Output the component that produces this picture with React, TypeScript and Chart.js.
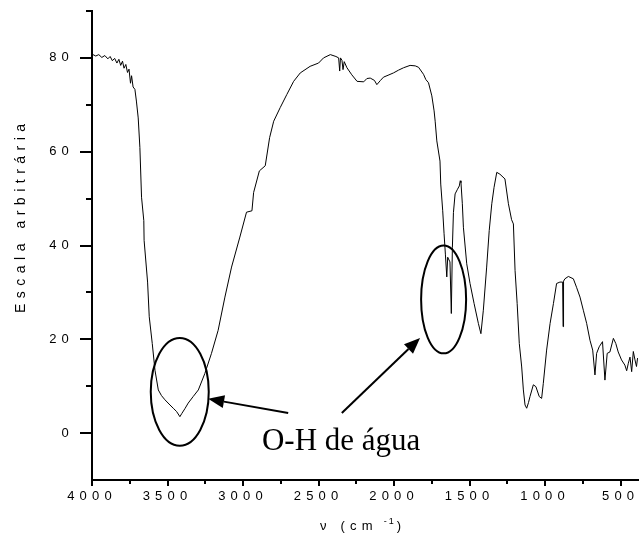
import React, { useEffect, useRef } from 'react';
import { Chart, registerables } from 'chart.js';

Chart.register(...registerables);

// Spectrum data (wavenumber in cm^-1, arbitrary intensity)
const wavenumbers = [
  4000, 3975, 3955, 3935, 3915, 3895, 3880, 3865, 3850, 3835, 3822, 3810, 3798, 3788, 3776, 3765, 3755, 3745, 3738, 3728,
  3716, 3706, 3694, 3683, 3672, 3657, 3655, 3632, 3621, 3601, 3583, 3561, 3540, 3517, 3490, 3462, 3440, 3418, 3405, 3385,
  3363, 3330, 3296, 3253, 3209, 3165, 3120, 3076, 3021, 2977, 2941, 2930, 2892, 2853, 2824, 2797, 2754, 2710, 2665, 2621,
  2556, 2500, 2467, 2422, 2385, 2367, 2360, 2355, 2345, 2338, 2330, 2312, 2280, 2245, 2201, 2180, 2158, 2130, 2114, 2090,
  2070, 2040, 2004, 1970, 1937, 1894, 1860, 1838, 1805, 1790, 1772, 1750, 1735, 1728, 1717, 1696, 1691, 1678, 1669, 1660,
  1651, 1645, 1630, 1621, 1614, 1607, 1596, 1580, 1568, 1562, 1557, 1548, 1541, 1519, 1497, 1470, 1442, 1425, 1409, 1387,
  1370, 1353, 1338, 1320, 1299, 1266, 1243, 1222, 1210, 1199, 1185, 1171, 1155, 1144, 1133, 1122, 1110, 1100, 1078, 1061,
  1039, 1023, 1012, 990, 967, 945, 924, 902, 884, 881, 878, 869, 846, 813, 792, 769, 747, 725, 703, 685,
  670, 659, 642, 620, 604, 589, 571, 548, 532, 516, 494, 472, 460, 449, 438, 427, 416, 405, 395, 388,
];
const intensity = [
  80.8, 80.4, 80.7, 80.1, 80.5, 79.8, 80.3, 79.4, 79.9, 78.9, 79.7, 78.4, 79.3, 77.8, 78.6, 76.9, 77.6, 74.6, 76.2, 73.8,
  73.3, 70.8, 67.2, 60.9, 50.3, 45.3, 41.1, 32.2, 24.8, 19.1, 13.4, 9.2, 8.0, 7.1, 6.2, 5.3, 4.6, 3.5, 4.2, 5.2,
  6.4, 7.8, 9.2, 12.7, 17.0, 21.9, 29.0, 35.4, 41.8, 47.1, 47.4, 51.3, 55.9, 57.0, 63.0, 66.5, 69.4, 72.2, 75.0, 76.8,
  78.2, 78.9, 80.0, 80.7, 80.3, 80.0, 77.2, 80.0, 79.5, 77.5, 79.2, 77.9, 76.4, 75.0, 74.9, 75.6, 75.7, 75.2, 74.3, 75.2,
  75.9, 76.3, 76.8, 77.4, 77.9, 78.4, 78.3, 78.0, 76.5, 75.4, 74.7, 71.9, 68.7, 66.5, 62.3, 58.0, 53.1, 47.4, 42.5, 38.0,
  33.3, 37.5, 36.5, 25.5, 39.6, 47.0, 51.0, 52.0, 52.7, 53.8, 53.4, 48.9, 43.9, 36.1, 31.9, 27.6, 23.4, 21.2, 26.2, 35.4,
  43.2, 48.9, 52.4, 55.6, 55.2, 54.2, 48.9, 45.5, 44.6, 34.7, 27.6, 19.1, 14.1, 9.2, 6.0, 5.3, 6.5, 7.8, 10.3, 9.9,
  7.8, 7.4, 10.6, 17.7, 23.4, 27.6, 31.9, 32.2, 32.2, 22.7, 32.4, 32.9, 33.4, 32.9, 31.1, 29.0, 26.2, 23.4, 19.8, 17.7,
  12.4, 17.0, 18.4, 19.5, 11.3, 17.0, 17.3, 20.2, 19.1, 17.3, 15.6, 14.5, 13.3, 14.9, 16.2, 13.1, 17.4, 15.6, 14.2, 16.0,
];

const xMajorTicks = [4000, 3500, 3000, 2500, 2000, 1500, 1000, 500];
const xMinorTicks = [3750, 3250, 2750, 2250, 1750, 1250, 750];
const yMajorTicks = [0, 20, 40, 60, 80];
const yMinorTicks = [10, 30, 50, 70, 90];

const yAxisTitle = 'Escala arbitrária';
const xAxisTitleMain = 'ν (cm';
const xAxisTitleSup = '-1';
const xAxisTitleEnd = ')';
const annotationText = 'O-H de água';

// Annotation geometry in data units
const ellipseCentersX = [3419, 1672];
const ellipseCentersY = [8.8, 28.5];
const ellipseRadiiX = [192, 149];
const ellipseRadiiY = [11.5, 11.5];
const arrowFromX = [2701, 2346];
const arrowFromY = [4.3, 4.3];
const arrowToX = [3231, 1828];
const arrowToY = [7.3, 20.3];
const annotationTextX = 2875;
const annotationTextY = -3.5;

const SANS = '"Liberation Sans", Arial, sans-serif';
const SERIF = '"Liberation Serif", "Times New Roman", serif';

const spacingPlugin = {
  id: 'letterSpacing',
  beforeDraw(chart: any) {
    (chart.ctx as any).letterSpacing = '5.2px';
  },
};

const decorPlugin = {
  id: 'decor',
  afterDraw(chart: any) {
    const ctx = chart.ctx as CanvasRenderingContext2D & { letterSpacing: string };
    const xs = chart.scales.x;
    const ys = chart.scales.y;
    const { left, bottom } = chart.chartArea;
    ctx.save();
    ctx.letterSpacing = '0px';
    ctx.strokeStyle = '#000';
    ctx.fillStyle = '#000';
    ctx.lineWidth = 2;
    ctx.beginPath();
    xMajorTicks.forEach((v) => {
      const p = Math.round(xs.getPixelForValue(v));
      ctx.moveTo(p, bottom);
      ctx.lineTo(p, bottom + 6);
    });
    xMinorTicks.forEach((v) => {
      const p = Math.round(xs.getPixelForValue(v));
      ctx.moveTo(p, bottom);
      ctx.lineTo(p, bottom + 4);
    });
    yMajorTicks.forEach((v) => {
      const p = Math.round(ys.getPixelForValue(v));
      ctx.moveTo(left, p);
      ctx.lineTo(left - 12, p);
    });
    yMinorTicks.forEach((v) => {
      const p = Math.round(ys.getPixelForValue(v));
      ctx.moveTo(left, p);
      ctx.lineTo(left - 6, p);
    });
    ctx.stroke();

    // ellipses
    ctx.lineWidth = 2;
    for (let i = 0; i < ellipseCentersX.length; i++) {
      const cx = xs.getPixelForValue(ellipseCentersX[i]);
      const cy = ys.getPixelForValue(ellipseCentersY[i]);
      const rx = Math.abs(xs.getPixelForValue(ellipseCentersX[i] + ellipseRadiiX[i]) - cx);
      const ry = Math.abs(ys.getPixelForValue(ellipseCentersY[i] + ellipseRadiiY[i]) - cy);
      ctx.beginPath();
      ctx.ellipse(cx, cy, rx, ry, 0, 0, Math.PI * 2);
      ctx.stroke();
    }

    // arrows
    for (let i = 0; i < arrowFromX.length; i++) {
      const x1 = xs.getPixelForValue(arrowFromX[i]);
      const y1 = ys.getPixelForValue(arrowFromY[i]);
      const x2 = xs.getPixelForValue(arrowToX[i]);
      const y2 = ys.getPixelForValue(arrowToY[i]);
      const ang = Math.atan2(y2 - y1, x2 - x1);
      const headLen = 16;
      const headHalf = 6.5;
      const bx = x2 - headLen * Math.cos(ang);
      const by = y2 - headLen * Math.sin(ang);
      ctx.beginPath();
      ctx.moveTo(x1, y1);
      ctx.lineTo(bx, by);
      ctx.stroke();
      ctx.beginPath();
      ctx.moveTo(x2, y2);
      ctx.lineTo(bx + headHalf * Math.sin(ang), by - headHalf * Math.cos(ang));
      ctx.lineTo(bx - headHalf * Math.sin(ang), by + headHalf * Math.cos(ang));
      ctx.closePath();
      ctx.fill();
    }

    // annotation text
    ctx.font = `31px ${SERIF}`;
    ctx.textAlign = 'left';
    ctx.textBaseline = 'alphabetic';
    ctx.fillText(annotationText, xs.getPixelForValue(annotationTextX), ys.getPixelForValue(annotationTextY));

    // y-axis title
    ctx.save();
    ctx.letterSpacing = '5.5px';
    ctx.font = `14px ${SANS}`;
    ctx.translate(25, 313);
    ctx.rotate(-Math.PI / 2);
    ctx.fillText(yAxisTitle, 0, 0);
    ctx.restore();

    // x-axis title
    ctx.save();
    ctx.letterSpacing = '5.2px';
    ctx.font = `13px ${SANS}`;
    const tx = 320;
    const ty = 530;
    ctx.fillText(xAxisTitleMain, tx, ty);
    const w1 = ctx.measureText(xAxisTitleMain).width;
    ctx.font = `9px ${SANS}`;
    ctx.letterSpacing = '2px';
    const sx = tx + w1 + 6;
    ctx.fillText(xAxisTitleSup, sx, ty - 6);
    const w2 = ctx.measureText(xAxisTitleSup).width;
    ctx.font = `13px ${SANS}`;
    ctx.fillText(xAxisTitleEnd, sx + w2 + 1, ty);
    ctx.restore();

    ctx.restore();
  },
};

export default function App() {
  const canvasRef = useRef<HTMLCanvasElement | null>(null);

  useEffect(() => {
    if (!canvasRef.current) return;
    const points = wavenumbers.map((w, i) => ({ x: w, y: intensity[i] }));
    const chart = new Chart(canvasRef.current, {
      type: 'line',
      data: {
        datasets: [
          {
            data: points,
            borderColor: '#000',
            borderWidth: 1,
            pointRadius: 0,
            tension: 0,
            fill: false,
          },
        ],
      },
      options: {
        responsive: false,
        animation: false,
        devicePixelRatio: 1,
        layout: { padding: { top: 11, right: 1, left: 0, bottom: 0 } },
        plugins: { legend: { display: false }, tooltip: { enabled: false }, title: { display: false } },
        scales: {
          x: {
            type: 'linear',
            reverse: true,
            min: 385,
            max: 4000,
            afterBuildTicks: (scale: any) => {
              scale.ticks = xMajorTicks.map((v) => ({ value: v }));
            },
            afterFit: (scale: any) => {
              scale.height = 59;
              scale.paddingLeft = 0;
              scale.paddingRight = 0;
            },
            grid: { display: true, drawOnChartArea: false, drawTicks: true, tickLength: 6, color: 'rgba(0,0,0,0)' },
            border: { display: true, color: '#000', width: 2 },
            ticks: {
              color: '#000',
              font: { family: SANS, size: 13 },
              padding: 3,
              maxRotation: 0,
              autoSkip: false,
              callback: (v: any) => String(v),
            },
          },
          y: {
            type: 'linear',
            min: -10,
            max: 90,
            afterBuildTicks: (scale: any) => {
              scale.ticks = yMajorTicks.map((v) => ({ value: v }));
            },
            afterFit: (scale: any) => {
              scale.width = 92;
              scale.paddingTop = 0;
              scale.paddingBottom = 0;
            },
            grid: { display: true, drawOnChartArea: false, drawTicks: true, tickLength: 12, color: 'rgba(0,0,0,0)' },
            border: { display: true, color: '#000', width: 2 },
            ticks: {
              color: '#000',
              font: { family: SANS, size: 13 },
              padding: 6,
              autoSkip: false,
              callback: (v: any) => String(v),
            },
          },
        },
      },
      plugins: [spacingPlugin, decorPlugin],
    });
    return () => chart.destroy();
  }, []);

  return (
    <div style={{ position: 'fixed', left: 0, top: 0, width: 639, height: 539, background: '#fff' }}>
      <canvas ref={canvasRef} width={639} height={539} style={{ display: 'block' }} />
    </div>
  );
}
